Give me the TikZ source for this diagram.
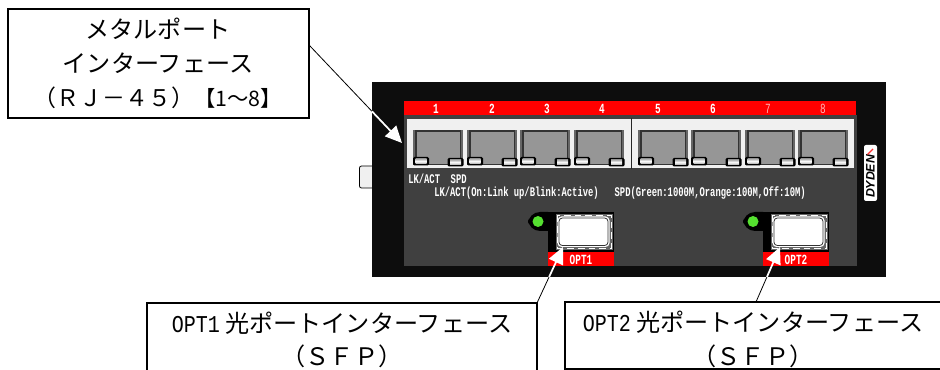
\documentclass[tikz,border=0pt]{standalone}
\usepackage{fontspec}
\usetikzlibrary{arrows.meta,calc}
\setmainfont{Liberation Sans}
\newfontfamily\jp{Noto Sans CJK JP}
\newfontfamily\monosmall[FakeStretch=0.67]{Liberation Mono}
\newfontfamily\monobig[FakeStretch=0.83]{Liberation Mono}
\newfontfamily\logofont{Liberation Sans}
\definecolor{devblack}{HTML}{0D0D0D}
\definecolor{panelgray}{HTML}{404040}
\definecolor{portlight}{HTML}{F0F0F0}
\definecolor{portgray}{HTML}{969696}
\definecolor{cagegray}{HTML}{666666}
\definecolor{ledgreen}{HTML}{55E030}
\definecolor{pinkish}{HTML}{FFB8B8}
\tikzset{
  callout/.style={draw=black,line width=1.4pt,fill=white,outer sep=0pt,inner sep=0pt},
  calltext/.style={inner sep=0pt,align=center,font=\jp\fontsize{18.1pt}{25.3pt}\selectfont,text=black},
  leader/.style={draw=black,line width=0.6pt},
  leaderin/.style={draw=white,line width=1.3pt,-{Triangle[length=12.5pt,width=11.5pt]}},
  smalltext/.style={inner sep=0pt,text=white,anchor=west,font=\monosmall\bfseries\fontsize{9.9pt}{9.9pt}\selectfont},
  portnum/.style={inner sep=0pt,text=white,font=\monosmall\bfseries\fontsize{10.5pt}{10.5pt}\selectfont},
  portnumdim/.style={inner sep=0pt,text=pinkish,font=\monosmall\fontsize{10.5pt}{10.5pt}\selectfont},
  optlabel/.style={inner sep=0pt,text=white,font=\monosmall\bfseries\fontsize{10.5pt}{10.5pt}\selectfont},
  ledlens/.style={fill=black,rounded corners=1pt},
}
\begin{document}
\begin{tikzpicture}[x=0.75pt,y=-0.75pt]
\useasboundingbox (0,0) rectangle (940,370);
\clip (0,0) rectangle (940,370);
\fill[white] (0,0) rectangle (940,370);

% mounting tab
\draw[fill=portlight,draw=black,line width=0.6pt,rounded corners=1.5pt] (373,166) -- (359.5,166) -- (359.5,188) -- (373,188);
% device
\fill[devblack] (372,82) rectangle (885.5,277);
\fill[panelgray] (404,115) rectangle (857,266);
\fill[red] (404,101) rectangle (856,115);
\fill[portlight] (407,119) rectangle (854,168.5);
\draw[black!85,line width=0.75pt] (631,118.5) -- (631,169);

% port numbers
\foreach \n/\x in {1/436,2/492,3/547,4/602,5/658,6/713}
  \node[portnum] (num\n) at (\x,109) {\n};
\foreach \n/\x in {7/768,8/823}
  \node[portnumdim] (num\n) at (\x,109) {\n};

% ports
\foreach \x in {413,467,520,574,638,691,745,798}{
  \fill[cagegray] (\x,130) rectangle ++(50,35);
  \fill[black!80] (\x+2,130.5) rectangle ++(46,34.5);
  \fill[portgray] (\x+3.5,132.5) rectangle ++(43,32);
  \fill[ledlens] (\x,157) rectangle ++(16,8.5);
  \shade[top color=gray!60,bottom color=gray!60,middle color=white] (\x+2.5,159) rectangle ++(11,4.5);
  \fill[ledlens] (\x+34.5,158) rectangle ++(16,8.5);
  \shade[top color=gray!60,bottom color=gray!60,middle color=white] (\x+37,160) rectangle ++(11,4.5);
}

% logo
\fill[white,rounded corners=1.5pt] (864,145) rectangle (877,201);
\node[inner sep=0pt,rotate=90,font=\logofont\bfseries\itshape\fontsize{9.2pt}{9.2pt}\selectfont,text=black] (logo) at (870.5,176.5) {DYDEN};
\draw[red!80!white,line width=1pt] (867.5,154.5) -- (873,149);

% LED legend
\node[smalltext] (leg1) at (408,179) {LK/ACT~~SPD};
\node[smalltext] (leg2) at (434,193) {LK/ACT(On:Link up/Blink:Active)~~~SPD(Green:1000M,Orange:100M,Off:10M)};

% optical ports
\foreach \dx/\lab in {0/OPT1,215/OPT2}{
  \begin{scope}[shift={(\dx,0)}]
    \fill[black,rounded corners=9pt] (528,212) rectangle (560,231);
    \fill[black] (548,212) rectangle (614,252);
    \fill[red] (548,252) rectangle (614,266);
    \fill[ledgreen] (538,221.5) circle[radius=5.5];
    \fill[cagegray] (556,214) rectangle (612.5,250);
    \draw[white,line width=0.75pt,dash pattern=on 5pt off 3pt] (557.5,215.5) rectangle (611,248.5);
    \fill[white,rounded corners=3pt] (557.5,216.5) rectangle (609.5,247);
    \draw[black!80,line width=0.6pt,rounded corners=2.5pt] (559,218) rectangle (608,245.5);
    \node[optlabel] at (581,260) {\lab};
  \end{scope}
}

% callouts
\node[callout,minimum width=225.75pt,minimum height=81.75pt] (box1) at (158.5,63.5) {};
\node[calltext] (txt1) at (158,63.5) {メタルポート\\インターフェース\\{\fontsize{17.2pt}{25.3pt}\selectfont（ＲＪ－４５）}{\fontsize{16pt}{25.3pt}\selectfont 【1～8】}};

\node[callout,minimum width=292.5pt,minimum height=69pt] (box2) at (342,349) {};
\node[calltext] (txt2) at (342,340) {{\monobig\fontsize{18.1pt}{25.3pt}\selectfont OPT1} 光ポートインターフェース\\（ＳＦＰ）};

\node[callout,minimum width=296.25pt,minimum height=50.25pt] (box3) at (762.5,335.5) {};
\node[calltext] (txt3) at (753,339.5) {{\monobig\fontsize{18.1pt}{25.3pt}\selectfont OPT2} 光ポートインターフェース\\（ＳＦＰ）};

% connectors
\coordinate (tipA) at (402,143);
\coordinate (startA) at ($(box1.north east)!0.33!(box1.south east)$);
\coordinate (enterA) at ($(startA)!0.677!(tipA)$);
\draw[leader] (startA) -- (enterA);
\draw[leaderin] (enterA) -- (tipA);

\coordinate (tipB) at (563,247);
\coordinate (enterB) at ($(box2.north east)!0.464!(tipB)$);
\draw[leader] (box2.north east) -- (enterB);
\draw[leaderin] (enterB) -- (tipB);

\coordinate (tipC) at (780,247);
\coordinate (startC) at ($(box3.north west)!0.4835!(box3.north east)$);
\coordinate (enterC) at ($(startC)!0.4545!(tipC)$);
\draw[leader] (startC) -- (enterC);
\draw[leaderin] (enterC) -- (tipC);
\end{tikzpicture}
\end{document}
